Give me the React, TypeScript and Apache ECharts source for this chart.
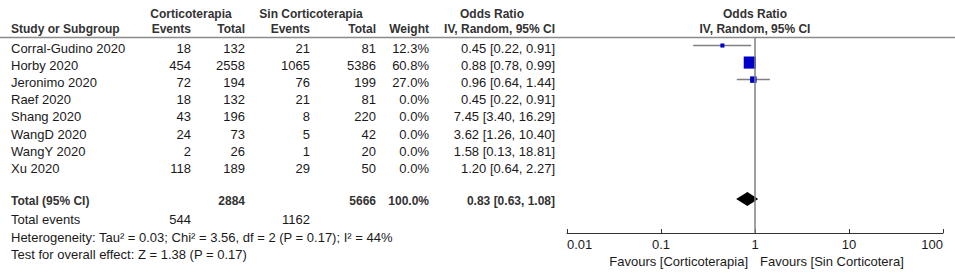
import React, { useEffect, useRef } from "react";
import * as echarts from "echarts";

const studies = ["Corral-Gudino 2020", "Horby 2020", "Jeronimo 2020", "Raef 2020", "Shang 2020", "WangD 2020", "WangY 2020", "Xu 2020"];
const eventsCort = [18, 454, 72, 18, 43, 24, 2, 118];
const totalCort = [132, 2558, 194, 132, 196, 73, 26, 189];
const eventsSin = [21, 1065, 76, 21, 8, 5, 1, 29];
const totalSin = [81, 5386, 199, 81, 220, 42, 20, 50];
const weights = [12.3, 60.8, 27.0, 0, 0, 0, 0, 0];
const orEst = [0.45, 0.88, 0.96, 0.45, 7.45, 3.62, 1.58, 1.2];
const orLow = [0.22, 0.78, 0.64, 0.22, 3.4, 1.26, 0.13, 0.64];
const orHigh = [0.91, 0.99, 1.44, 0.91, 16.29, 10.4, 18.81, 2.27];

const totalRow = { label: "Total (95% CI)", totalCort: 2884, totalSin: 5666, weight: "100.0%", est: 0.83, lo: 0.63, hi: 1.08 };
const totalEventsCort = 544;
const totalEventsSin = 1162;
const heterogeneity = "Heterogeneity: Tau\u00b2 = 0.03; Chi\u00b2 = 3.56, df = 2 (P = 0.17); I\u00b2 = 44%";
const overallEffect = "Test for overall effect: Z = 1.38 (P = 0.17)";
const tickLabels = ["0.01", "0.1", "1", "10", "100"];
const favoursLeft = "Favours [Corticoterapia]";
const favoursRight = "Favours [Sin Corticotera]";

const FONT = "'Liberation Sans', Arial, sans-serif";
const TXT = "#1a1a1a";
const HDR = "#333333";

function fmt2(v: number) {
  return v.toFixed(2);
}

export default function App() {
  const ref = useRef<HTMLDivElement>(null);
  useEffect(() => {
    if (!ref.current) return;
    const chart = echarts.init(ref.current, undefined, { renderer: "svg" });

    const txt = (text: string, x: number, y: number, align: string, bold = false, size?: number) => ({
      type: "text",
      x,
      y,
      silent: true,
      style: {
        text,
        fill: bold ? HDR : TXT,
        font: `${bold ? "bold " : ""}${size ?? (bold ? 12 : 13)}px ${FONT}`,
        textAlign: align,
        textVerticalAlign: "middle",
      },
    });

    const g: any[] = [];
    g.push(txt("Corticoterapia", 191, 14, "center", true));
    g.push(txt("Sin Corticoterapia", 311, 14, "center", true));
    g.push(txt("Odds Ratio", 492, 14, "center", true));
    g.push(txt("Odds Ratio", 755, 14, "center", true));
    g.push(txt("Study or Subgroup", 11, 29, "left", true));
    g.push(txt("Events", 191, 29, "right", true));
    g.push(txt("Total", 245, 29, "right", true));
    g.push(txt("Events", 310, 29, "right", true));
    g.push(txt("Total", 376, 29, "right", true));
    g.push(txt("Weight", 429, 29, "right", true));
    g.push(txt("IV, Random, 95% CI", 555, 29, "right", true));
    g.push(txt("IV, Random, 95% CI", 755, 29, "center", true));
    g.push({
      type: "line",
      silent: true,
      shape: { x1: 0, y1: 37.5, x2: 955, y2: 37.5 },
      style: { stroke: "#8a8a8a", lineWidth: 1.5 },
    });

    studies.forEach((s, i) => {
      const y = 48.3 + 17.14 * i;
      g.push(txt(s, 11, y, "left"));
      g.push(txt(String(eventsCort[i]), 191, y, "right"));
      g.push(txt(String(totalCort[i]), 245, y, "right"));
      g.push(txt(String(eventsSin[i]), 310, y, "right"));
      g.push(txt(String(totalSin[i]), 376, y, "right"));
      g.push(txt(weights[i].toFixed(1) + "%", 429, y, "right"));
      g.push(txt(`${fmt2(orEst[i])} [${fmt2(orLow[i])}, ${fmt2(orHigh[i])}]`, 555, y, "right"));
    });

    const ty = 201;
    g.push(txt(totalRow.label, 11, ty, "left", true));
    g.push(txt(String(totalRow.totalCort), 245, ty, "right", true));
    g.push(txt(String(totalRow.totalSin), 376, ty, "right", true));
    g.push(txt(totalRow.weight, 429, ty, "right", true));
    g.push(txt(`${fmt2(totalRow.est)} [${fmt2(totalRow.lo)}, ${fmt2(totalRow.hi)}]`, 555, ty, "right", true));
    g.push(txt("Total events", 11, 219.5, "left"));
    g.push(txt(String(totalEventsCort), 191, 219.5, "right"));
    g.push(txt(String(totalEventsSin), 310, 219.5, "right"));
    g.push(txt(heterogeneity, 11, 237.5, "left"));
    g.push(txt(overallEffect, 11, 254.5, "left"));
    g.push(txt(favoursLeft, 748, 261, "right"));
    g.push(txt(favoursRight, 760, 261, "left"));

    const studyData = studies
      .map((_, i) => [orEst[i], orLow[i], orHigh[i], weights[i], i])
      .filter((d) => d[3] > 0);

    const option: any = {
      animation: false,
      grid: { left: 567, right: 12, top: 37, bottom: 44 },
      xAxis: {
        type: "log",
        logBase: 10,
        min: 0.01,
        max: 100,
        axisLine: { onZero: false, lineStyle: { color: "#333", width: 1 } },
        axisTick: { inside: true, length: 4, lineStyle: { color: "#333" } },
        splitLine: { show: false },
        axisLabel: {
          margin: 5,
          color: TXT,
          fontSize: 13,
          fontFamily: FONT,
          alignMinLabel: "left",
          alignMaxLabel: "right",
          formatter: (v: number) => tickLabels[Math.round(Math.log10(v)) + 2] ?? "",
        },
      },
      yAxis: { type: "value", min: -0.5, max: 11, inverse: true, show: false },
      series: [
        {
          type: "line",
          data: [
            [1, -0.5],
            [1, 11],
          ],
          symbol: "none",
          silent: true,
          lineStyle: { color: "#808080", width: 1.5 },
        },
        {
          type: "custom",
          data: studyData,
          silent: true,
          encode: { x: [0, 1, 2], y: 4 },
          renderItem: (params: any, api: any) => {
            const est = api.value(0);
            const lo = api.value(1);
            const hi = api.value(2);
            const w = api.value(3);
            const idx = api.value(4);
            const pLo = api.coord([lo, idx]);
            const pHi = api.coord([hi, idx]);
            const pE = api.coord([est, idx]);
            const size = 2 + w / 6;
            return {
              type: "group",
              children: [
                {
                  type: "line",
                  shape: { x1: pLo[0], y1: pLo[1], x2: pHi[0], y2: pHi[1] },
                  style: { stroke: "#808080", lineWidth: 1.5 },
                },
                {
                  type: "rect",
                  shape: { x: pE[0] - size / 2, y: pE[1] - size / 2, width: size, height: size },
                  style: { fill: "#0000c8" },
                },
              ],
            };
          },
        },
        {
          type: "custom",
          data: [[totalRow.est, totalRow.lo, totalRow.hi, 9]],
          silent: true,
          encode: { x: [0, 1, 2], y: 3 },
          renderItem: (params: any, api: any) => {
            const row = api.value(3);
            const pE = api.coord([api.value(0), row]);
            const pLo = api.coord([api.value(1), row]);
            const pHi = api.coord([api.value(2), row]);
            const h = 7;
            return {
              type: "polygon",
              shape: {
                points: [
                  [pLo[0], pE[1]],
                  [pE[0], pE[1] - h],
                  [pHi[0], pE[1]],
                  [pE[0], pE[1] + h],
                ],
              },
              style: { fill: "#000" },
            };
          },
        },
      ],
      graphic: g,
    };
    chart.setOption(option);
    return () => chart.dispose();
  }, []);
  return <div ref={ref} style={{ position: "fixed", left: 0, top: 0, width: 955, height: 277, background: "#fff" }} />;
}
